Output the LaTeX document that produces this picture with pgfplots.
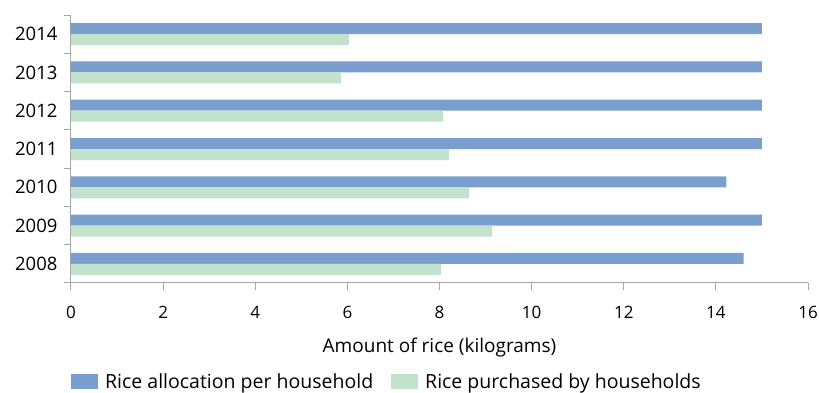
\documentclass[border=0pt]{standalone}
\usepackage{fontspec}
\setmainfont{Open Sans}
\usepackage{pgfplots}
\pgfplotsset{compat=1.18}
\definecolor{allocblue}{HTML}{7A9FCF}
\definecolor{purchgreen}{HTML}{C1E3CB}
\definecolor{axgray}{HTML}{A6A6A6}
\begin{document}
\begin{tikzpicture}
\begin{axis}[
  name=ax,
  scale only axis,
  width=737pt, height=268pt,
  xbar, bar width=11pt,
  xmin=0, xmax=16,
  ymin=-0.5, ymax=6.5,
  xtick={0,2,...,16},
  ytick={0,...,6},
  yticklabels={2008,2009,2010,2011,2012,2013,2014},
  major y tick style={draw=none},
  minor ytick={-0.5,0.5,...,6.5},
  minor tick length=7pt,
  major tick length=7pt,
  tick align=outside,
  axis x line*=bottom, axis y line*=left,
  axis line style={axgray, line width=1pt},
  tick style={axgray, line width=1pt},
  xticklabel style={font=\fontsize{17}{19}\selectfont, anchor=center, yshift=-22pt},
  yticklabel style={font=\fontsize{18.5}{20}\selectfont, xshift=-3pt},
  /pgf/number format/assume math mode=true,
  xlabel={Amount of rice (kilograms)},
  xlabel style={font=\fontsize{19}{21}\selectfont, at={(0.5,-0.242)}, anchor=center},
  legend columns=2,
  legend style={draw=none, inner sep=0pt, at={(0,-0.369)}, anchor=west,
    font=\fontsize{19.5}{21}\selectfont,
    /tikz/every odd column/.append style={column sep=5pt},
    /tikz/every even column/.append style={column sep=16pt}},
  legend image code/.code={\fill[#1, draw=none] (0pt,-7.5pt) rectangle (27pt,7.5pt);},
]
\addplot[fill=allocblue, draw=none, bar shift=5.5pt] coordinates {
(14.6,0) (15,1) (14.23,2) (15,3) (15,4) (15,5) (15,6)};
\addplot[fill=purchgreen, draw=none, bar shift=-5.5pt] coordinates {
(8.03,0) (9.14,1) (8.64,2) (8.21,3) (8.08,4) (5.86,5) (6.03,6)};
\legend{Rice allocation per household, Rice purchased by households}
\end{axis}
\pgfresetboundingbox
\path[use as bounding box] (ax.south west) ++(-71pt,-110pt) rectangle ++(819pt,393pt);
\end{tikzpicture}
\end{document}
